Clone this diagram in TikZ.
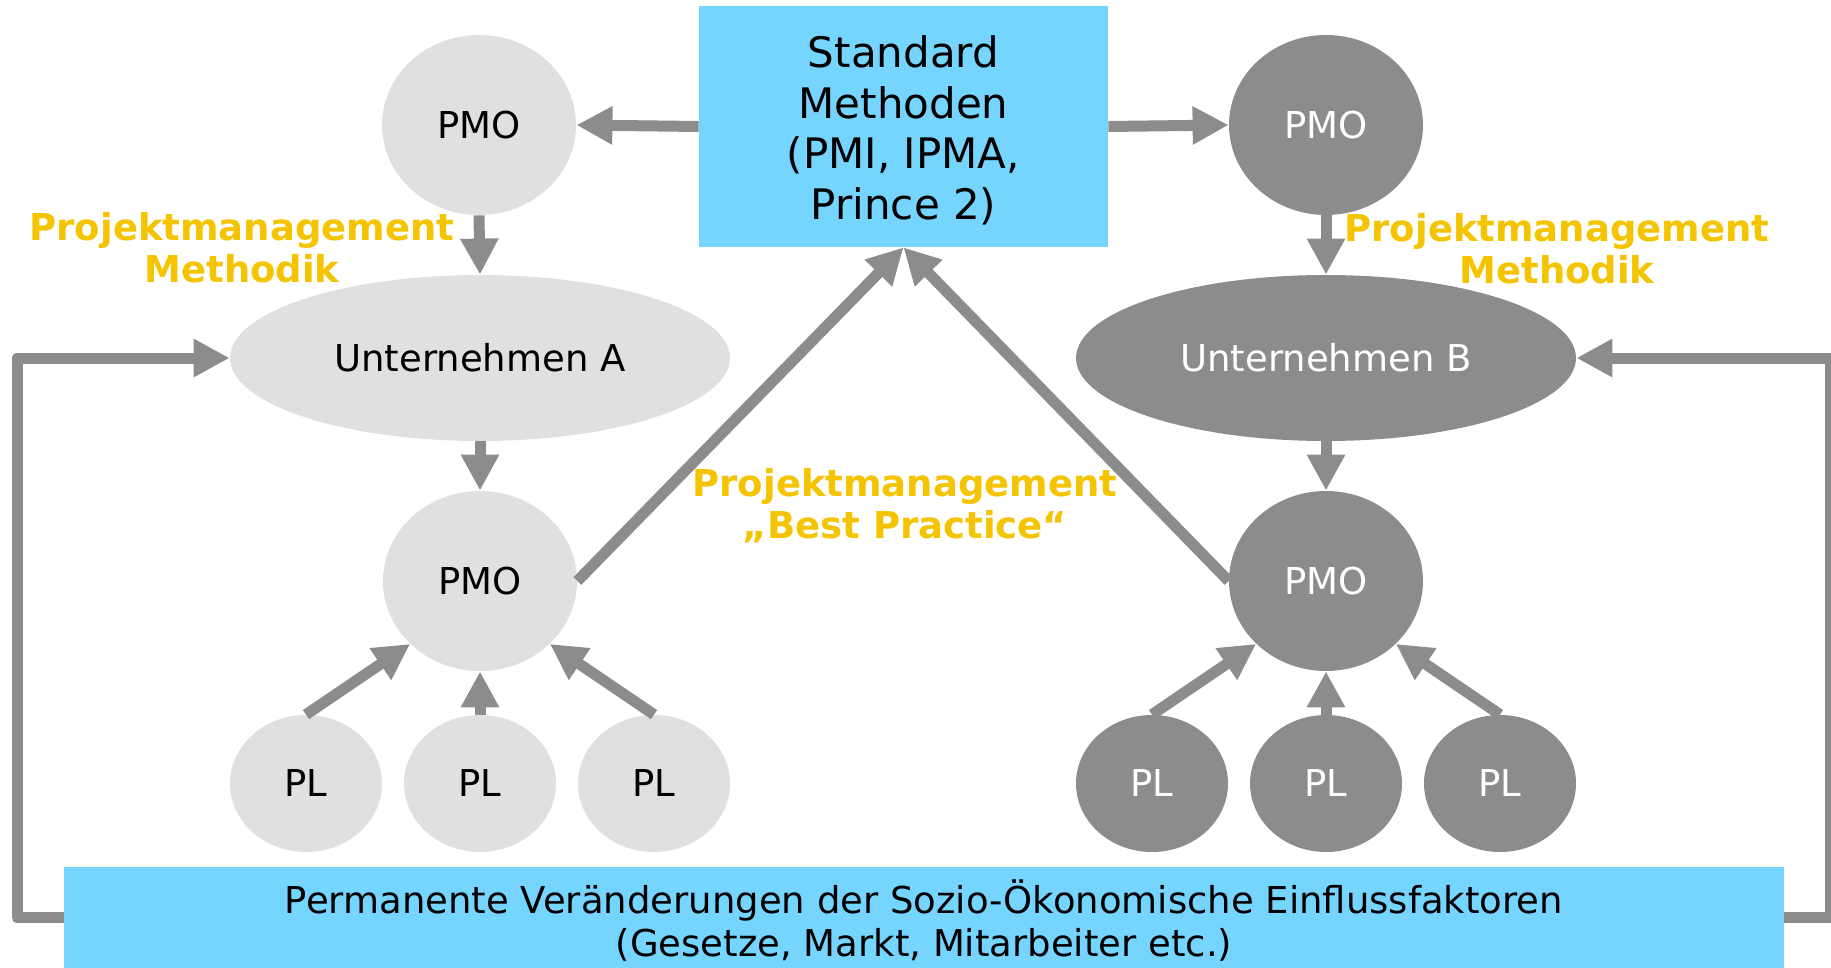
\documentclass[tikz,border=0pt]{standalone}
\usepackage{fontspec}
\setmainfont{DejaVu Sans}
\usetikzlibrary{arrows.meta,shapes.geometric}
\definecolor{lgray}{RGB}{224,224,224}
\definecolor{dgray}{RGB}{140,140,140}
\definecolor{skyb}{RGB}{118,213,254}
\definecolor{gold}{RGB}{245,196,0}
\begin{document}
\begin{tikzpicture}[x=0.5pt,y=-0.5pt,
  txt/.style={font=\fontsize{18.5}{21.5}\selectfont},
  lnode/.style={ellipse, fill=lgray, text=black, inner sep=0pt, txt},
  dnode/.style={ellipse, fill=dgray, text=white, inner sep=0pt, txt},
  pmo/.style={minimum width=97pt, minimum height=90pt},
  unt/.style={minimum width=250pt, minimum height=83pt},
  pl/.style={minimum width=76pt, minimum height=68.5pt},
  bluebox/.style={fill=skyb, inner sep=0pt, align=center},
  arr/.style={draw=dgray, line width=5.5pt, -{Triangle[length=18pt,width=18pt]}},
  feed/.style={arr, line join=round},
  lab/.style={text=gold, font=\bfseries\fontsize{18.5}{21}\selectfont, align=center, inner sep=0pt},
]
\useasboundingbox (0,0) rectangle (1831,968);

% blue boxes
\node[bluebox, minimum width=204.5pt, minimum height=120.5pt,
      font=\fontsize{21}{25.2}\selectfont] (std) at (903.5,126.5)
      {\raisebox{-3.5pt}[\height][\depth]{\begin{tabular}{@{}c@{}}Standard\\Methoden\\(PMI, IPMA,\\Prince 2)\end{tabular}}};
\node[bluebox, minimum width=860pt, minimum height=50.5pt,
      font=\fontsize{18.5}{21.5}\selectfont] (bot) at (924,917.5)
      {\raisebox{-3.5pt}[\height][\depth]{\begin{tabular}{@{}c@{}}Permanente Veränderungen der Sozio-Ökonomische Einflussfaktoren\\(Gesetze, Markt, Mitarbeiter etc.)\end{tabular}}};

% left company
\node[lnode,pmo] (pmoA1) at (479,125) {PMO};
\node[lnode,unt] (uA) at (480,358) {Unternehmen A};
\node[lnode,pmo] (pmoA2) at (480,581) {PMO};
\node[lnode,pl] (plA1) at (306,783.5) {PL};
\node[lnode,pl] (plA2) at (480,783.5) {PL};
\node[lnode,pl] (plA3) at (654,783.5) {PL};

% right company
\node[dnode,pmo] (pmoB1) at (1326,125) {PMO};
\node[dnode,unt] (uB) at (1326,358) {Unternehmen B};
\node[dnode,pmo] (pmoB2) at (1326,581) {PMO};
\node[dnode,pl] (plB1) at (1152,783.5) {PL};
\node[dnode,pl] (plB2) at (1326,783.5) {PL};
\node[dnode,pl] (plB3) at (1500,783.5) {PL};

% labels
\node[lab] (labA) at (242,248) {Projektmanagement\\Methodik};
\node[lab] (labB) at (1557,249) {Projektmanagement\\Methodik};
\node[lab] (labM) at (905,506) {Projektmanagement\\„Best Practice“};

% arrows
\draw[arr] (std.west) -- (pmoA1.east);
\draw[arr] (std.east) -- (pmoB1.west);
\draw[arr] (pmoA1.south) -- (uA.north);
\draw[arr] (pmoB1.south) -- (uB.north);
\draw[arr] (uA.south) -- (pmoA2.north);
\draw[arr] (uB.south) -- (pmoB2.north);
\draw[arr] (pmoA2.east) -- (std.south);
\draw[arr] (pmoB2.west) -- (std.south);
\draw[arr] (plA1.north) -- (pmoA2.222);
\draw[arr] (plA2.north) -- (pmoA2.south);
\draw[arr] (plA3.north) -- (pmoA2.318);
\draw[arr] (plB1.north) -- (pmoB2.222);
\draw[arr] (plB2.north) -- (pmoB2.south);
\draw[arr] (plB3.north) -- (pmoB2.318);

% feedback loops
\draw[feed] (bot.west) -- ++(-46.5,0) |- (uA.west);
\draw[feed] (bot.east) -- ++(46,0) |- (uB.east);
\end{tikzpicture}
\end{document}
